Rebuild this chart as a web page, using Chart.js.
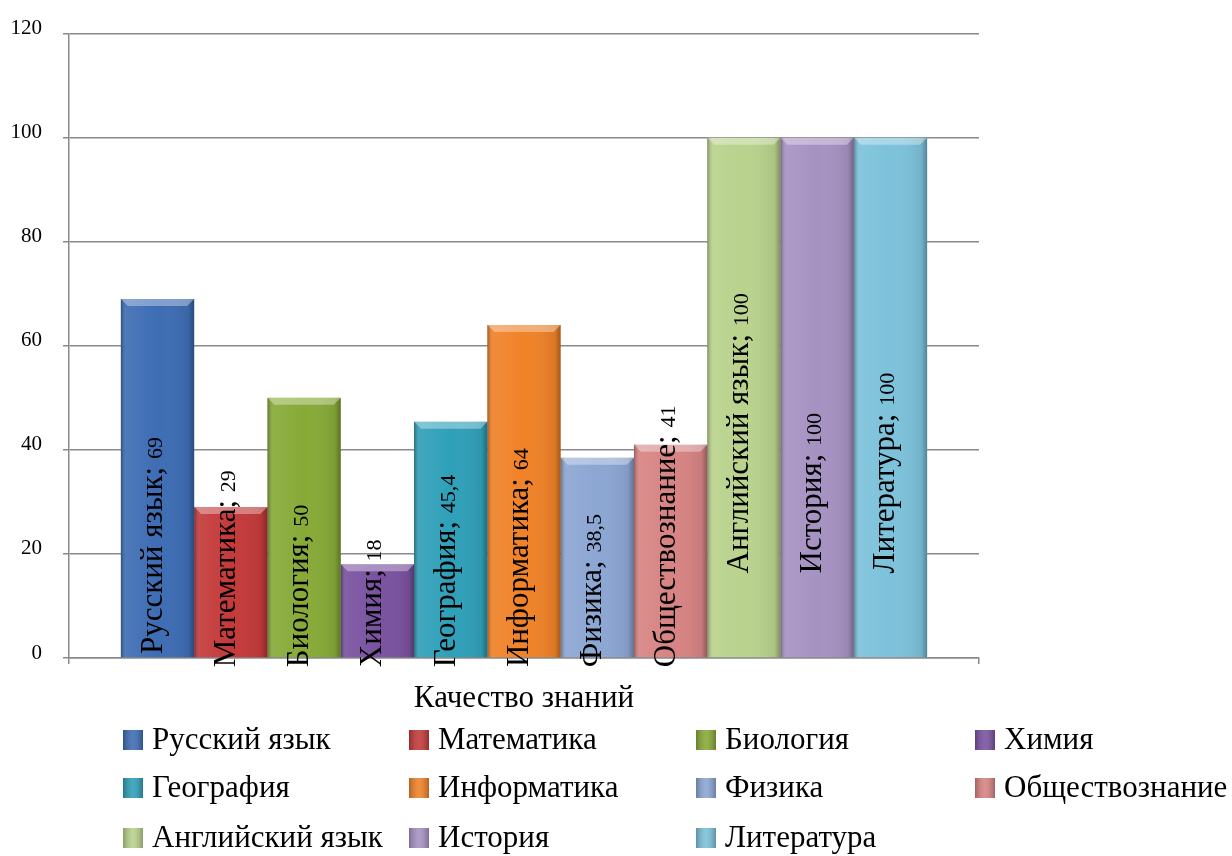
<!DOCTYPE html>
<html lang="ru">
<head>
<meta charset="utf-8">
<title>Качество знаний</title>
<script src="https://cdn.jsdelivr.net/npm/chart.js@4/dist/chart.umd.min.js"></script>
<style>
  html, body { margin: 0; padding: 0; background: #fff; }
  #wrap { width: 1232px; height: 856px; }
</style>
</head>
<body>
<div id="wrap"><canvas id="chart-1"></canvas></div>
<script>
const categories = ['Качество знаний'];
const subjects = [
  'Русский язык', 'Математика', 'Биология', 'Химия',
  'География', 'Информатика', 'Физика', 'Обществознание',
  'Английский язык', 'История', 'Литература'
];
const quality = [69, 29, 50, 18, 45.4, 64, 38.5, 41, 100, 100, 100];
const colors = [
  '#3e6db4', '#c43a3a', '#87aa37', '#7a52a0',
  '#2fa0b9', '#f08228', '#8ca6d3', '#d78483',
  '#b9d28c', '#a692c2', '#7cc2da'
];

const serif = '"Liberation Serif", "Times New Roman", serif';
const gridGrey = '#8a8a8a';

function fmt(v) {
  return String(v).replace('.', ',');
}

// shaded edges + top bevel, like the office chart
const bevel = {
  id: 'bevel',
  afterDatasetsDraw(chart) {
    const ctx = chart.ctx;
    chart.data.datasets.forEach((ds, i) => {
      chart.getDatasetMeta(i).data.forEach(bar => {
        const x0 = bar.x - bar.width / 2, x1 = bar.x + bar.width / 2;
        const top = bar.y, base = bar.base;
        const g = ctx.createLinearGradient(x0, 0, x1, 0);
        g.addColorStop(0, 'rgba(0,0,0,0.32)');
        g.addColorStop(0.08, 'rgba(255,255,255,0.08)');
        g.addColorStop(0.5, 'rgba(255,255,255,0)');
        g.addColorStop(0.92, 'rgba(0,0,0,0.08)');
        g.addColorStop(1, 'rgba(0,0,0,0.32)');
        ctx.save();
        ctx.fillStyle = g;
        ctx.fillRect(x0, top, x1 - x0, base - top);
        ctx.beginPath();
        ctx.moveTo(x0, top);
        ctx.lineTo(x1, top);
        ctx.lineTo(x1 - 7, top + 7);
        ctx.lineTo(x0 + 7, top + 7);
        ctx.closePath();
        ctx.fillStyle = 'rgba(255,255,255,0.35)';
        ctx.fill();
        ctx.restore();
      });
    });
  }
};

// vertical "name; value" labels
const barLabels = {
  id: 'barLabels',
  afterDatasetsDraw(chart) {
    const ctx = chart.ctx;
    chart.data.datasets.forEach((ds, i) => {
      const bar = chart.getDatasetMeta(i).data[0];
      const mid = (bar.y + bar.base) / 2;
      const start = Math.min(bar.base + 10, mid + 176);
      ctx.save();
      ctx.translate(bar.x + 4, start);
      ctx.rotate(-Math.PI / 2);
      ctx.fillStyle = '#000';
      ctx.textBaseline = 'alphabetic';
      ctx.textAlign = 'left';
      ctx.font = '31px ' + serif;
      const name = ds.label + '; ';
      ctx.fillText(name, 0, 0);
      const w = ctx.measureText(name).width;
      ctx.font = '22px ' + serif;
      ctx.fillText(fmt(ds.data[0]), w, 0);
      ctx.restore();
    });
  }
};

// legend in 4 columns under the axis
const legendGrid = {
  id: 'legendGrid',
  afterDraw(chart) {
    const ctx = chart.ctx;
    const cols = [123, 409, 696, 975];
    const rows = [740, 788, 838];
    chart.data.datasets.forEach((ds, i) => {
      const x = cols[i % 4], y = rows[Math.floor(i / 4)];
      ctx.save();
      ctx.fillStyle = ds.backgroundColor;
      ctx.fillRect(x, y - 10, 20, 20);
      const g = ctx.createLinearGradient(x, 0, x + 20, 0);
      g.addColorStop(0, 'rgba(0,0,0,0.25)');
      g.addColorStop(0.5, 'rgba(255,255,255,0.1)');
      g.addColorStop(1, 'rgba(0,0,0,0.25)');
      ctx.fillStyle = g;
      ctx.fillRect(x, y - 10, 20, 20);
      ctx.fillStyle = '#000';
      ctx.font = '31px ' + serif;
      ctx.textBaseline = 'middle';
      ctx.fillText(ds.label, x + 29, y + 1);
      ctx.restore();
    });
  }
};

const ctx1 = document.getElementById('chart-1').getContext('2d');
const myChart = new Chart(ctx1, {
  type: 'bar',
  data: {
    labels: categories,
    datasets: subjects.map((s, i) => ({
      label: s,
      data: [quality[i]],
      backgroundColor: colors[i],
      borderWidth: 0,
      categoryPercentage: 0.886,
      barPercentage: 1
    }))
  },
  options: {
    responsive: true,
    maintainAspectRatio: false,
    animation: false,
    layout: { padding: { top: 32, right: 253, left: 0, bottom: 0 } },
    plugins: {
      legend: { display: false },
      tooltip: { enabled: false }
    },
    scales: {
      x: {
        grid: { drawOnChartArea: false, color: gridGrey, lineWidth: 1.5, tickLength: 6, offset: true },
        border: { color: gridGrey, width: 1.5 },
        ticks: { color: '#000', font: { family: serif, size: 31 }, padding: 16, maxRotation: 0 },
        afterFit(s) { s.height = 198; }
      },
      y: {
        min: 0,
        max: 120,
        ticks: { stepSize: 20, color: '#000', font: { family: serif, size: 21 }, padding: 21, labelOffset: -5 },
        grid: { color: gridGrey, lineWidth: 1.5, tickLength: 6 },
        border: { color: gridGrey, width: 1.5 },
        afterFit(s) { s.width = 69; }
      }
    }
  },
  plugins: [bevel, barLabels, legendGrid]
});
</script>
</body>
</html>
